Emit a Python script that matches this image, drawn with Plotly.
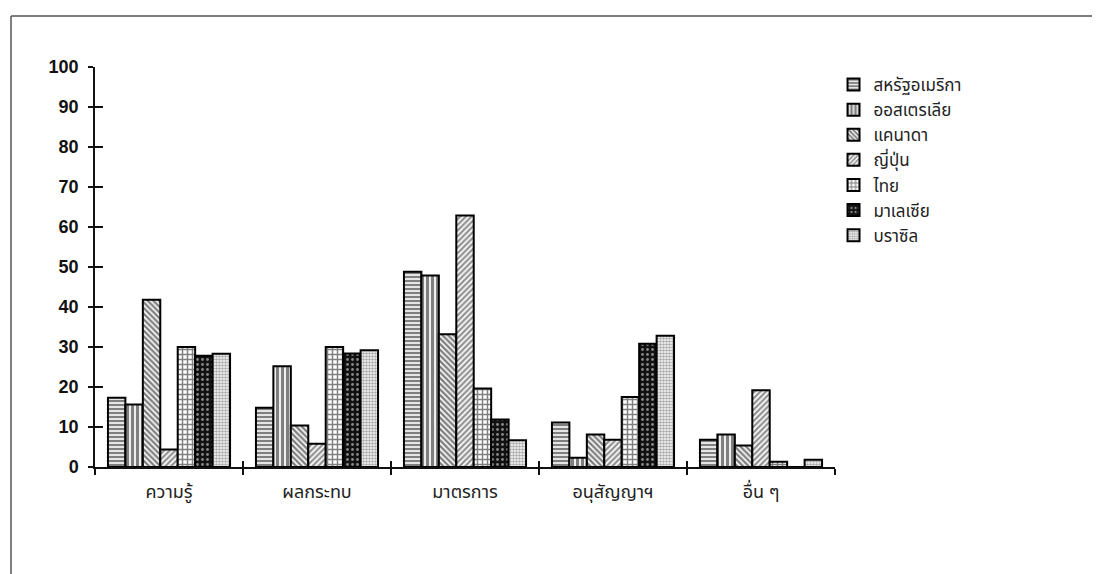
import plotly.graph_objects as go

categories = ["ความรู้", "ผลกระทบ", "มาตรการ", "อนุสัญญาฯ", "อื่น ๆ"]
series_names = ["สหรัฐอเมริกา", "ออสเตรเลีย", "แคนาดา", "ญี่ปุ่น", "ไทย", "มาเลเซีย", "บราซิล"]

usa = [17.3, 14.8, 48.8, 11.1, 6.8]
australia = [15.6, 25.2, 47.9, 2.3, 8.1]
canada = [41.8, 10.4, 33.2, 8.1, 5.4]
japan = [4.4, 5.8, 62.9, 6.8, 19.2]
thai = [30.0, 30.0, 19.6, 17.5, 1.3]
malaysia = [27.8, 28.4, 11.9, 30.8, 0.0]
brazil = [28.3, 29.2, 6.7, 32.8, 1.8]

values = [usa, australia, canada, japan, thai, malaysia, brazil]
y_ticks = [0, 10, 20, 30, 40, 50, 60, 70, 80, 90, 100]

patterns = [
    dict(shape="-", fgcolor="black", bgcolor="white", size=4, solidity=0.6),
    dict(shape="|", fgcolor="black", bgcolor="white", size=5, solidity=0.65),
    dict(shape="\\", fgcolor="black", bgcolor="white", size=4, solidity=0.6),
    dict(shape="/", fgcolor="#222", bgcolor="white", size=4, solidity=0.55),
    dict(shape="+", fgcolor="black", bgcolor="white", size=5, solidity=0.5),
    dict(shape=".", fgcolor="white", bgcolor="#111", size=5, solidity=0.25),
    dict(shape=".", fgcolor="#555", bgcolor="white", size=3, solidity=0.6),
]

thai_font = "Noto Sans Thai, Noto Sans, DejaVu Sans, sans-serif"

fig = go.Figure()
for name, vals, pat in zip(series_names, values, patterns):
    fig.add_trace(go.Bar(
        x=categories, y=vals, name=name,
        marker=dict(color="white", pattern=pat, line=dict(color="black", width=2)),
    ))

# invisible helper trace to host the crossing (inside) ticks
fig.add_trace(go.Bar(x=categories, y=[0]*5, xaxis="x2", yaxis="y2",
                     showlegend=False, hoverinfo="skip", marker=dict(opacity=0)))

fig.update_layout(
    width=1092, height=566,
    paper_bgcolor="white", plot_bgcolor="white",
    margin=dict(l=87, r=265, t=59, b=107),
    barmode="group", bargap=0.175, bargroupgap=0,
    font=dict(family=thai_font, color="#222"),
    legend=dict(x=0.998, y=1.0, xanchor="left", yanchor="top",
                font=dict(size=17, family=thai_font, color="#222"),
                tracegroupgap=0, itemwidth=30),
    xaxis=dict(showline=True, linecolor="#111", linewidth=1.5,
               ticks="outside", ticklen=6, tickwidth=1.5, tickcolor="#111",
               tickson="boundaries", showgrid=False, ticklabelstandoff=8,
               tickfont=dict(size=18, family=thai_font, color="#222")),
    yaxis=dict(range=[0, 100], tickvals=y_ticks, showline=True, linecolor="#111",
               linewidth=1.5, ticks="outside", ticklen=5, tickwidth=1.5,
               tickcolor="#111", showgrid=False, zeroline=False, ticklabelstandoff=6,
               tickfont=dict(size=18, family="Liberation Sans, Arial", color="#111", weight="bold")),
    xaxis2=dict(overlaying="x", matches="x", ticks="inside", ticklen=6, tickwidth=1.5,
                tickcolor="#111", tickson="boundaries", showticklabels=False,
                showgrid=False, showline=False),
    yaxis2=dict(overlaying="y", matches="y", ticks="inside", ticklen=8, tickwidth=1.5,
                tickcolor="#111", tickvals=y_ticks, showticklabels=False,
                showgrid=False, showline=False, zeroline=False),
    shapes=[
        dict(type="line", xref="paper", yref="paper", x0=-0.1135, x1=1.36,
             y0=1.1275, y1=1.1275, line=dict(color="#555", width=1.5)),
        dict(type="line", xref="paper", yref="paper", x0=-0.1135, x1=-0.1135,
             y0=1.1275, y1=-0.28, line=dict(color="#555", width=1.5)),
    ],
)

fig.write_html("out.html")
